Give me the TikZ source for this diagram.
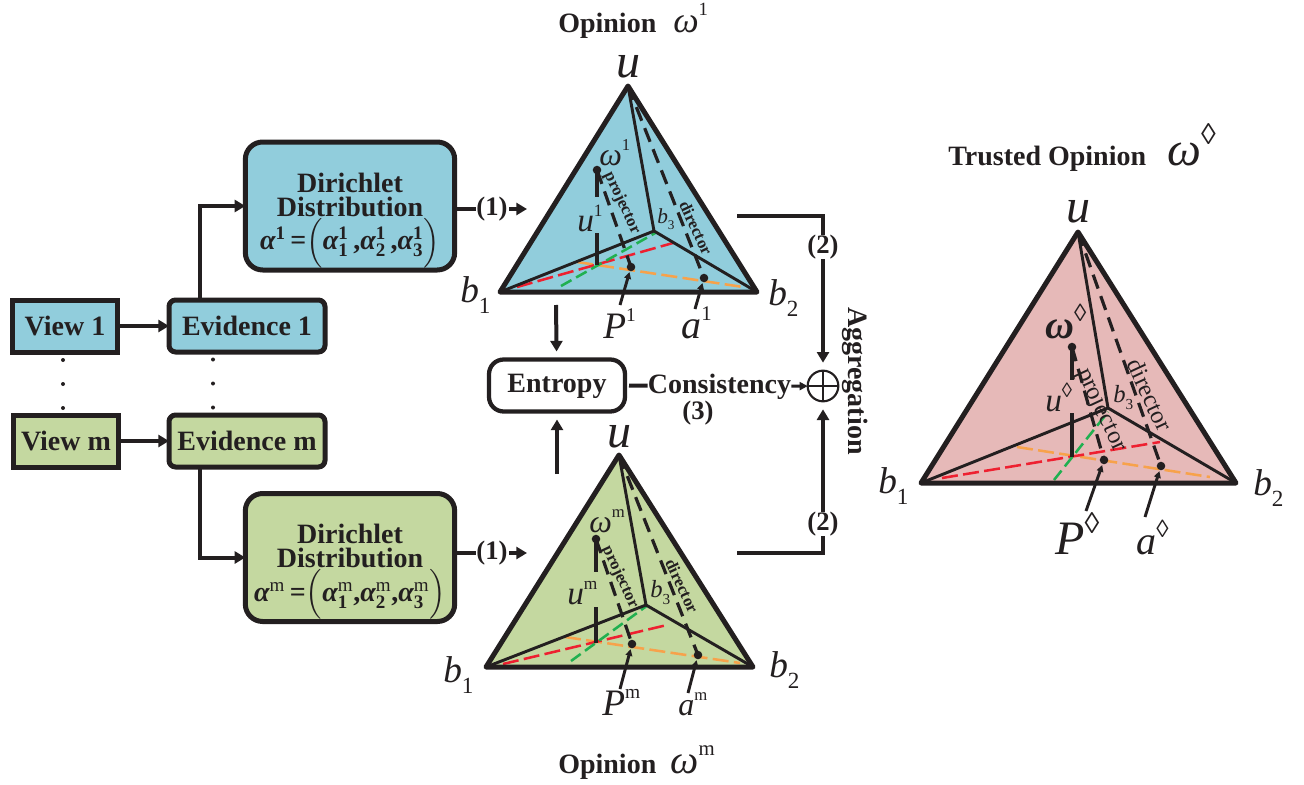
\documentclass[tikz,border=0pt]{standalone}
\usepackage{amsmath}
\usepackage{fontspec}
\setmainfont{Liberation Serif}
\usepackage{xcolor}
\usetikzlibrary{calc,arrows.meta}
\definecolor{inkc}{HTML}{231F20}
\definecolor{viewa}{HTML}{91CDDC}
\definecolor{viewm}{HTML}{C4D8A0}
\definecolor{trust}{HTML}{E6B9B8}
\definecolor{redc}{HTML}{EE2030}
\definecolor{greenc}{HTML}{20B050}
\definecolor{orangec}{HTML}{F7A24B}
\newcommand{\fs}[1]{\fontsize{#1}{#1}\selectfont}
\newcommand{\supr}[1]{\raisebox{.45em}{\upshape\scalebox{.52}{#1}}}
\newcommand{\supd}{\raisebox{.42em}{\upshape\scalebox{.62}{◊}}}
\newcommand{\subr}[1]{\raisebox{-.3em}{\upshape\scalebox{.62}{#1}}}
\newcommand{\alphaterm}[2]{\mbox{\bfseries\itshape α}_{\mbox{\scalebox{.68}{\bfseries #1}}}^{\mbox{\scalebox{.68}{\bfseries #2}}}}
\newcommand{\alphaline}[2]{$\mbox{\bfseries\itshape α}^{\mbox{\scalebox{.68}{\bfseries #1}}}\mbox{\bfseries\,=}{\left(\rule[-9pt]{0pt}{22pt}\alphaterm{1}{#1}\mbox{\bfseries#2,}\alphaterm{2}{#1}\mbox{\bfseries#2,}\alphaterm{3}{#1}\right)}$}
\tikzset{
  boxbase/.style={draw=inkc,line width=3.75pt,outer sep=0pt,inner sep=0pt,text=inkc,font=\fs{21}\bfseries},
  viewbox/.style={boxbase,minimum width=79pt,minimum height=39pt},
  evidbox/.style={boxbase,rounded corners=5pt,minimum width=117pt,minimum height=39pt},
  dirbox/.style={boxbase,rounded corners=13pt,minimum width=157pt,minimum height=96pt,align=center,font=\fontsize{21}{18}\selectfont\bfseries},
  flow/.style={draw=inkc,line width=3pt,-{Triangle[length=8pt,width=9pt]}},
  plain/.style={draw=inkc,line width=3pt},
  lab/.style={text=inkc,inner sep=0pt,font=\fs{20}\bfseries},
  title/.style={anchor=base west,text=inkc,inner sep=0pt,font=\fs{21}\bfseries},
  var/.style={anchor=base west,text=inkc,inner sep=0pt,font=\fs{#1}\itshape},
  edgelab/.style={text=inkc,inner sep=0pt,rotate=-65,font=\fs{12.5}\bfseries},
  edgelabt/.style={text=inkc,inner sep=0pt,rotate=-65,font=\fs{18.5}}
}
\begin{document}
\begin{tikzpicture}[x=.75pt,y=-.75pt]
  \useasboundingbox (0,0) rectangle (1304,785);
  % left column
  \node[viewbox,fill=viewa] (viewA) at (65,326) {View 1};
  \node[viewbox,fill=viewm] (viewM) at (66,441) {View m};
  \node[evidbox,fill=viewa] (evidA) at (247,326) {Evidence 1};
  \node[evidbox,fill=viewm] (evidM) at (247,441) {Evidence m};
  \node[dirbox,fill=viewa] (dirA) at (350,206) {\rule{0pt}{36pt}Dirichlet\\Distribution\\\alphaline{1}{\,}};
  \node[dirbox,fill=viewm] (dirM) at (350,557.5) {\rule{0pt}{36pt}Dirichlet\\Distribution\\\alphaline{\mdseries m}{}};
  \foreach \y in {360,384,408}{
     \fill[inkc] (63,\y) circle (1.5pt);
     \fill[inkc] (213,\y-.5) circle (1.5pt);}
  \draw[flow] (viewA) -- (evidA);
  \draw[flow] (viewM) -- (evidM);
  \coordinate (kneeA) at (200,206);
  \coordinate (kneeM) at (200,557.5);
  \draw[flow] (evidA.north -| kneeA) -- (kneeA) -- (dirA.west);
  \draw[flow] (evidM.south -| kneeM) -- (kneeM) -- (dirM.west);
  % pyramid points
  \foreach \p/\ux/\uy/\lx/\ly/\rx/\ry/\cx/\cy/\wx/\wy/\fy/\sa/\sb/\qx/\qy/\ax/\ay in {
     A/628/86/500/292/757/292/654/231/597/170/265/197/233/631/267/704/278,
     M/619/455/486/667/753/667/646/605/596/539/643/572/607/632/644/698/655,
     T/1078/232/921/483/1236/483/1108/408/1072/347/457/380/413/1104/460/1161/466}{
     \coordinate (u\p) at (\ux,\uy);
     \coordinate (bl\p) at (\lx,\ly);
     \coordinate (br\p) at (\rx,\ry);
     \coordinate (bc\p) at (\cx,\cy);
     \coordinate (w\p) at (\wx,\wy);
     \coordinate (wa\p) at (\wx,\sa);
     \coordinate (wb\p) at (\wx,\sb);
     \coordinate (f\p) at (\wx,\fy);
     \coordinate (q\p) at (\qx,\qy);
     \coordinate (a\p) at (\ax,\ay);}
  % dashed guides: red, green, orange end points
  \foreach \p/\ra/\rb/\rc/\rd/\ga/\gb/\gc/\gd/\oa/\ob/\oc/\od in {
     A/517/287/673/243/561/286/657/232/577/262/743/287,
     M/503/664/667/625/571/661/648/605/565/637/740/663,
     T/942/478/1160/442/1054/480/1108/412/1017/447/1210/477}{
     \coordinate (ra\p) at (\ra,\rb);
     \coordinate (rb\p) at (\rc,\rd);
     \coordinate (ga\p) at (\ga,\gb);
     \coordinate (gb\p) at (\gc,\gd);
     \coordinate (oa\p) at (\oa,\ob);
     \coordinate (ob\p) at (\oc,\od);}
  % pyramids
  \foreach \p/\c in {A/viewa,M/viewm,T/trust}{
     \fill[\c] (u\p) -- (bl\p) -- (br\p) -- cycle;
     \draw[orangec,line width=1.9pt,dash pattern=on 12pt off 4pt] (oa\p) -- (ob\p);
     \draw[redc,line width=1.9pt,dash pattern=on 12pt off 4pt] (ra\p) -- (rb\p);
     \draw[greenc,line width=1.9pt,dash pattern=on 9pt off 4pt] (ga\p) -- (gb\p);
     \draw[inkc,line width=2.2pt] (u\p) -- (bc\p) (bl\p) -- (bc\p) -- (br\p);
     \draw[inkc,line width=2.4pt,dash pattern=on 11pt off 6pt] (u\p) -- (a\p);
     \draw[inkc,line width=2.4pt,dash pattern=on 11pt off 6pt] (w\p) -- (q\p);
     \draw[inkc,line width=2.4pt] (w\p) -- (wa\p) (wb\p) -- (f\p);
     \fill[inkc] (w\p) circle (3.2pt) (q\p) circle (3.2pt) (a\p) circle (3.2pt);
     \draw[inkc,line width=3.75pt,line join=round] (u\p) -- (bl\p) -- (br\p) -- cycle;}
  % pointers to P and a
  \coordinate (pfA) at (620,305);
  \coordinate (afA) at (695,309);
  \coordinate (pfM) at (620,689);
  \coordinate (afM) at (688,693);
  \coordinate (pfT) at (1086,511);
  \coordinate (afT) at (1145,517);
  \foreach \p in {A,M,T}{
     \draw[inkc,line width=2.2pt,-{Triangle[length=5pt,width=5pt]},shorten >=4pt] (pf\p) -- (q\p);
     \draw[inkc,line width=2.2pt,-{Triangle[length=5pt,width=5pt]},shorten >=4pt] (af\p) -- (a\p);}
  % labels on the pyramids
  \node[edgelab] (projA) at (622,203) {projector};
  \node[edgelab] (dirctA) at (696,228) {director};
  \node[edgelab] (projM) at (620,577) {projector};
  \node[edgelab] (dirctM) at (682,586) {director};
  \node[edgelabt] (projT) at (1101,410) {projector};
  \node[edgelabt] (dirctT) at (1150,395) {director};
  \node[var=36] (capuA) at (616,77) {u};
  \node[var=28] (lbA) at (460,302) {b\subr{1}};
  \node[var=28] (rbA) at (768,305) {b\subr{2}};
  \node[var=16] (cbA) at (657,223) {b\subr{3}};
  \node[var=24] (wlabA) at (599,165) {ω\supr{1}};
  \node[var=25] (ulabA) at (577,231) {u\supr{1}};
  \node[var=28] (plabA) at (603,338) {P\supr{1}};
  \node[var=30] (alabA) at (681,338) {a\supr{1}};
  \node[var=36] (capuM) at (607,447) {u};
  \node[var=28] (lbM) at (443,682) {b\subr{1}};
  \node[var=28] (rbM) at (769,677) {b\subr{2}};
  \node[var=18.5] (cbM) at (650,597) {b\subr{3}};
  \node[var=24] (wlabM) at (589,532) {ω\supr{m}};
  \node[var=25] (ulabM) at (567,604) {u\supr{m}};
  \node[var=28] (plabM) at (602,715) {P\supr{m}};
  \node[var=24] (alabM) at (678,715) {a\supr{m}};
  \node[var=36] (capuT) at (1066,222) {u};
  \node[var=28] (lbT) at (878,493) {b\subr{1}};
  \node[var=28] (rbT) at (1253,495) {b\subr{2}};
  \node[var=18.5] (cbT) at (1113,402) {b\subr{3}};
  \node[var=30,font=\fs{30}\bfseries\itshape] (wlabT) at (1045,338) {ω\supd};
  \node[var=25] (ulabT) at (1045,411) {u\supd};
  \node[var=36] (plabT) at (1055,554) {P\supd};
  \node[var=30] (alabT) at (1136,554) {a\supd};
  % titles
  \node[title] (titleA) at (558,32) {Opinion};
  \node[var=27] (omegaA) at (673,32) {ω\supr{1}};
  \node[title] (titleM) at (558,773) {Opinion};
  \node[var=30] (omegaM) at (670,773) {ω\supr{m}};
  \node[title] (titleT) at (948,165) {Trusted Opinion};
  \node[var=36] (omegaT) at (1167,165) {ω\supd};
  % middle part
  \node[boxbase,fill=white,rounded corners=11pt,line width=3.2pt,minimum width=102pt,minimum height=39pt,text height=15pt,text depth=5pt] (entropy) at (557,385.5) {Entropy};
  \node[circle,draw=inkc,line width=1.6pt,minimum size=23pt,inner sep=0pt,outer sep=0pt] (agg) at (823,386) {};
  \draw[inkc,line width=1.6pt] (agg.north) -- (agg.south) (agg.west) -- (agg.east);
  \node[lab] (oneA) at (492,209) {(1)};
  \node[lab] (oneM) at (492,553) {(1)};
  \coordinate (inA) at (527,209);
  \coordinate (inM) at (527,553);
  \draw[plain] (dirA.east |- oneA) -- (oneA);
  \draw[plain] (dirM.east |- oneM) -- (oneM);
  \draw[flow] (oneA) ++(17,0) -- (inA);
  \draw[flow] (oneM) ++(17,0) -- (inM);
  \node[lab] (twoA) at (823,247) {(2)};
  \node[lab] (twoM) at (823,524) {(2)};
  \coordinate (cornA) at (823,216);
  \coordinate (cornM) at (823,553);
  \coordinate (outA) at (737,216);
  \coordinate (outM) at (737,553);
  \draw[plain] (outA) -- (cornA) -- (twoA);
  \draw[plain] (outM) -- (cornM) -- (twoM);
  \draw[flow,shorten >=6pt] (twoA) -- (agg);
  \draw[flow,shorten >=6pt] (twoM) -- (agg);
  \coordinate (dropA) at (556,305);
  \coordinate (dropM) at (557,474);
  \draw[flow,shorten >=6pt] (dropA) -- (entropy);
  \draw[flow,shorten >=6pt] (dropM) -- (entropy);
  \node[lab,font=\fs{21}\bfseries] (cons) at (719.5,386.5) {Consistency};
  \node[lab] (three) at (698,413) {(3)};
  \draw[plain] (entropy.east) ++(4,0) -- (cons);
  \draw[flow,line width=2.2pt,-{Triangle[length=6pt,width=6pt]}] (cons) -- (agg);
  \node[lab,font=\fs{21}\bfseries,rotate=-90] (aggl) at (855,381) {Aggregation};
\end{tikzpicture}
\end{document}
